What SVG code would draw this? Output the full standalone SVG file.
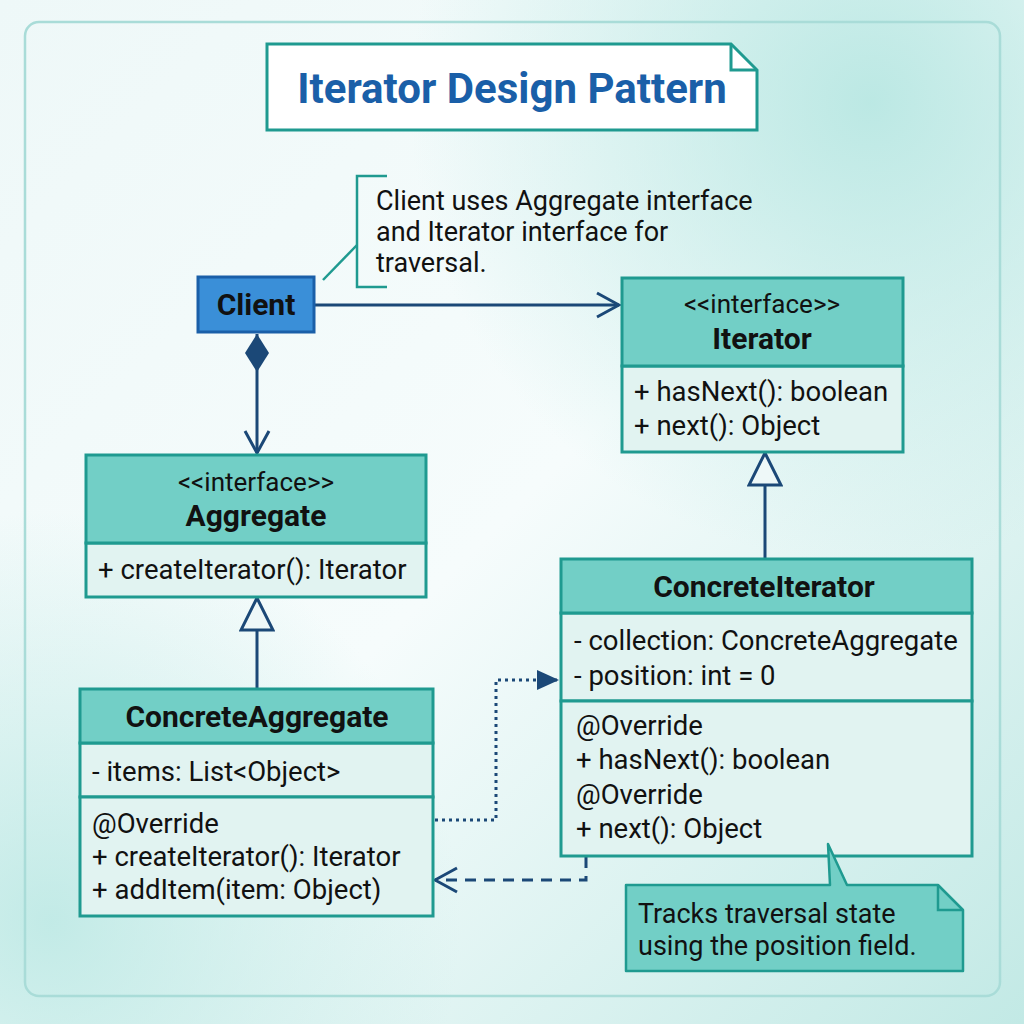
<svg xmlns="http://www.w3.org/2000/svg" width="1024" height="1024" viewBox="0 0 1024 1024">
<defs>
<linearGradient id="bg" x1="0" y1="0" x2="1" y2="1">
<stop offset="0" stop-color="#eef8f8"/>
<stop offset="0.5" stop-color="#f6fcfc"/>
<stop offset="1" stop-color="#c2e9e5"/>
</linearGradient>
<radialGradient id="bg2" cx="0.85" cy="0.1" r="0.45">
<stop offset="0" stop-color="#b5e6e1" stop-opacity="0.9"/>
<stop offset="1" stop-color="#b5e6e1" stop-opacity="0"/>
</radialGradient>
<radialGradient id="bg3" cx="0.05" cy="0.9" r="0.4">
<stop offset="0" stop-color="#b5e6e1" stop-opacity="0.8"/>
<stop offset="1" stop-color="#b5e6e1" stop-opacity="0"/>
</radialGradient>
<marker id="open" viewBox="0 0 26 28" refX="24" refY="14" markerWidth="26" markerHeight="28" markerUnits="userSpaceOnUse" orient="auto">
<path d="M2,2 L24,14 L2,26" fill="none" stroke="#1b4877" stroke-width="3"/>
</marker>
<marker id="filled" viewBox="0 0 24 24" refX="22" refY="12" markerWidth="24" markerHeight="24" markerUnits="userSpaceOnUse" orient="auto">
<path d="M0,2 L22,12 L0,22 Z" fill="#1b4877"/>
</marker>
<marker id="tri" viewBox="0 0 36 36" refX="34" refY="18" markerWidth="36" markerHeight="36" markerUnits="userSpaceOnUse" orient="auto">
<path d="M34,18 L2,2 L2,34 Z" fill="#eef8f8" stroke="#1b4877" stroke-width="3"/>
</marker>
<marker id="diamond" viewBox="0 0 40 26" refX="1" refY="13" markerWidth="40" markerHeight="26" markerUnits="userSpaceOnUse" orient="auto">
<path d="M1,13 L20,1 L39,13 L20,25 Z" fill="#1b4877"/>
</marker>
</defs>
<style>
.t{font-family:Roboto,"Liberation Sans",sans-serif;fill:#111;font-size:27.5px}
.b{font-weight:bold;font-size:30px}
.s{font-size:26px}
.c{text-anchor:middle}
.hdr{fill:#72cfc6;stroke:#1f9a90;stroke-width:3}
.body{fill:#e1f3f1;stroke:#1f9a90;stroke-width:3}
.conn{fill:none;stroke:#1b4877;stroke-width:3}
</style>
<rect x="0" y="0" width="1024" height="1024" fill="url(#bg)"/>
<rect x="0" y="0" width="1024" height="1024" fill="url(#bg2)"/>
<rect x="0" y="0" width="1024" height="1024" fill="url(#bg3)"/>
<rect x="25" y="22" width="975" height="974" rx="14" fill="none" stroke="#a9dcd8" stroke-width="2.5"/>

<g id="title">
<path d="M267,44 H731 L757,70 V130 H267 Z" fill="#ffffff" stroke="#1f9a90" stroke-width="3"/>
<path d="M731,44 V70 H757" fill="none" stroke="#1f9a90" stroke-width="3"/>
<text x="512" y="103" class="t b c" style="font-size:42px;fill:#1a5fa8">Iterator Design Pattern</text>
</g>

<g id="client-note">
<path d="M387,176 H357 V287 H387" fill="none" stroke="#1f9a90" stroke-width="2.5"/>
<line x1="323" y1="280" x2="357" y2="245" stroke="#1f9a90" stroke-width="2.5"/>
<text x="376" y="210" class="t" style="font-size:27px">Client uses Aggregate interface</text>
<text x="376" y="241" class="t" style="font-size:27px">and Iterator interface for</text>
<text x="376" y="272" class="t" style="font-size:27px">traversal.</text>
</g>

<g id="connectors">
<path class="conn" d="M314,305 H619" marker-end="url(#open)"/>
<path class="conn" d="M257,334 V453" marker-start="url(#diamond)" marker-end="url(#open)"/>
<path class="conn" d="M257,688 V598" marker-end="url(#tri)"/>
<path class="conn" d="M765,558 V453" marker-end="url(#tri)"/>
<path class="conn" d="M435,820 H496 V680 H559" stroke-dasharray="3 4" marker-end="url(#filled)"/>
<path class="conn" d="M586,857 V880 H435" stroke-dasharray="11 8" marker-end="url(#open)"/>
</g>

<g id="client">
<rect x="198" y="277" width="116" height="55" fill="#3a8fd8" stroke="#1a5fa8" stroke-width="3"/>
<text x="256" y="315" class="t b c">Client</text>
</g>

<g id="iterator">
<rect x="622" y="366" width="281" height="86" class="body"/>
<rect x="622" y="278" width="281" height="88" class="hdr"/>
<text x="762" y="313" class="t s c">&lt;&lt;interface&gt;&gt;</text>
<text x="762" y="349" class="t b c">Iterator</text>
<text x="634" y="401" class="t">+ hasNext(): boolean</text>
<text x="634" y="435" class="t">+ next(): Object</text>
</g>

<g id="aggregate">
<rect x="86" y="543" width="340" height="54" class="body"/>
<rect x="86" y="455" width="340" height="88" class="hdr"/>
<text x="256" y="491" class="t s c">&lt;&lt;interface&gt;&gt;</text>
<text x="256" y="526" class="t b c">Aggregate</text>
<text x="98" y="579" class="t">+ createIterator(): Iterator</text>
</g>

<g id="concrete-aggregate">
<rect x="80" y="743" width="353" height="54" class="body"/>
<rect x="80" y="797" width="353" height="119" class="body"/>
<rect x="80" y="689" width="353" height="54" class="hdr"/>
<text x="257" y="727" class="t b c">ConcreteAggregate</text>
<text x="92" y="781" class="t">- items: List&lt;Object&gt;</text>
<text x="92" y="833" class="t">@Override</text>
<text x="92" y="866" class="t">+ createIterator(): Iterator</text>
<text x="92" y="899" class="t">+ addItem(item: Object)</text>
</g>

<g id="concrete-iterator">
<rect x="561" y="613" width="411" height="88" class="body"/>
<rect x="561" y="701" width="411" height="155" class="body"/>
<rect x="561" y="559" width="411" height="54" class="hdr"/>
<text x="764" y="597" class="t b c">ConcreteIterator</text>
<text x="574" y="650" class="t">- collection: ConcreteAggregate</text>
<text x="574" y="685" class="t">- position: int = 0</text>
<text x="576" y="735" class="t">@Override</text>
<text x="576" y="769" class="t">+ hasNext(): boolean</text>
<text x="576" y="804" class="t">@Override</text>
<text x="576" y="838" class="t">+ next(): Object</text>
</g>

<g id="tracks-note">
<path d="M626,885 H830 L828,844 L847,885 H938 L963,910 V971 H626 Z" fill="#72cfc6" stroke="#1f9a90" stroke-width="2.5" stroke-linejoin="round"/>
<path d="M938,885 V910 H963" fill="none" stroke="#1f9a90" stroke-width="2.5"/>
<text x="638" y="923" class="t" style="font-size:27px">Tracks traversal state</text>
<text x="638" y="955" class="t" style="font-size:27px">using the position field.</text>
</g>
</svg>
